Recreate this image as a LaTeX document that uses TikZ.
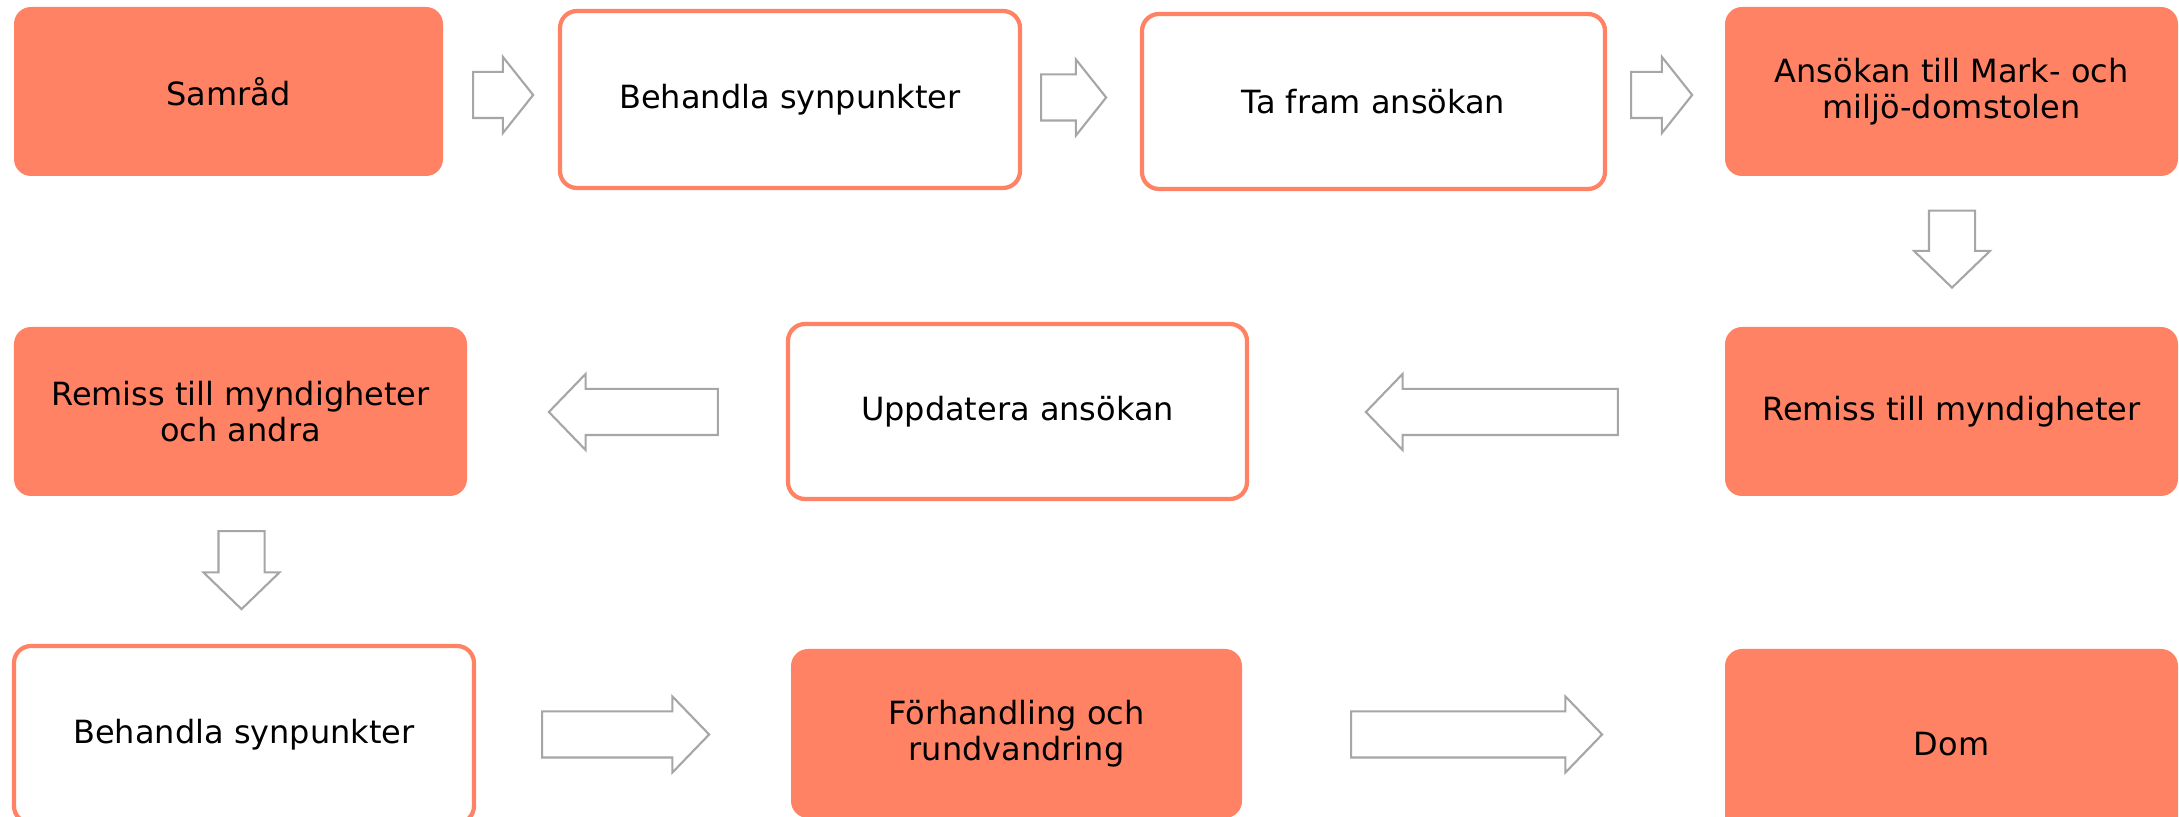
\documentclass[tikz,border=0pt]{standalone}
\usepackage{fontspec}
\setmainfont{DejaVu Sans}
\usetikzlibrary{shapes.arrows, positioning}
\definecolor{coral}{HTML}{FF8264}
\definecolor{arrowgray}{HTML}{A6A6A6}

\begin{document}
\begin{tikzpicture}[fullbox/.style={rectangle, rounded corners=0.17cm, fill=coral, inner sep=0, align=center, font=\fontsize{9.1}{10.2}\selectfont}, openbox/.style={fullbox, fill=white, draw=coral, line width=1.2pt}, blockarrow/.style={single arrow, draw=arrowgray, line width=0.6pt, fill=white, inner xsep=0, inner ysep=0.22cm, single arrow head extend=0.15cm, single arrow tip angle=92}, shortarrow/.style={blockarrow, single arrow tip angle=103}]
\useasboundingbox (0,0) rectangle (21.79,8.17);
%row 1
\node[fullbox, minimum width=4.29cm, minimum height=1.69cm] at (2.285, 7.255) (samrad) {Samråd};
\node[openbox, minimum width=4.60cm, minimum height=1.77cm] at (7.90, 7.175) (beh1) {Behandla synpunkter};
\node[openbox, minimum width=4.63cm, minimum height=1.75cm] at (13.735, 7.155) (tafram) {Ta fram ansökan};
\node[fullbox, minimum width=4.53cm, minimum height=1.69cm] at (19.515, 7.255) (ansokan) {Ansökan till Mark- och\\miljö-domstolen};
\node[shortarrow, minimum height=0.60cm] at (4.94, 7.22) (a1) {};
\node[shortarrow, minimum height=0.65cm] at (10.645, 7.195) (a2) {};
\node[shortarrow, minimum height=0.61cm] at (16.525, 7.22) (a3) {};
\node[blockarrow, rotate=-90, minimum height=0.77cm] at (19.52, 5.79) (a4) {};
%row 2
\node[fullbox, minimum width=4.53cm, minimum height=1.69cm] at (2.405, 4.055) (remiss2) {Remiss till myndigheter\\och andra};
\node[openbox, minimum width=4.59cm, minimum height=1.75cm] at (10.175, 4.055) (uppdatera) {Uppdatera ansökan};
\node[fullbox, minimum width=4.53cm, minimum height=1.69cm] at (19.515, 4.055) (remiss1) {Remiss till myndigheter};
\node[blockarrow, rotate=180, minimum height=2.52cm] at (15.03, 4.05) (a5) {};
\node[blockarrow, rotate=180, minimum height=1.69cm] at (6.445, 4.05) (a6) {};
\node[blockarrow, rotate=-90, minimum height=0.78cm] at (2.415, 2.58) (a7) {};
%row 3
\node[openbox, minimum width=4.60cm, minimum height=1.77cm] at (2.44, 0.825) (beh2) {Behandla synpunkter};
\node[fullbox, minimum width=4.51cm, minimum height=1.69cm] at (10.165, 0.835) (forh) {Förhandling och\\rundvandring};
\node[fullbox, minimum width=4.53cm, minimum height=1.91cm] at (19.515, 0.725) (dom) {Dom};
\node[blockarrow, minimum height=1.67cm] at (6.145, 0.825) (a8) {};
\node[blockarrow, minimum height=2.51cm] at (14.655, 0.825) (a9) {};
\end{tikzpicture}
\end{document}
